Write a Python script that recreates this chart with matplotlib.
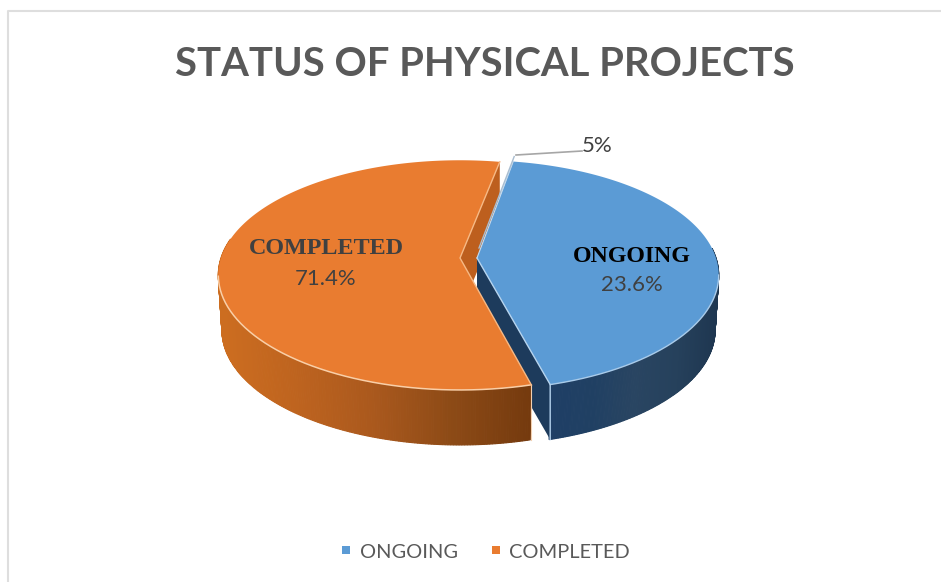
import numpy as np
import matplotlib
matplotlib.use("Agg")
import matplotlib.pyplot as plt
from matplotlib.colors import LinearSegmentedColormap

W, H = 941, 582

title = "STATUS OF PHYSICAL PROJECTS"
categories = ["ONGOING", "COMPLETED"]
printed_labels = ["23.6%", "71.4%"]
small_slice_label = "5%"
# Share of the disc each slice visibly takes in the picture (the printed labels differ)
drawn_shares = [43.0, 57.0]
start_clockwise_from_north = 10.0
colors = ["#5b9bd5", "#e97c30"]

# Tilted-disc projection
K, A, B, DEPTH = 0.149, 112.3, 239.0, 55.0
APEX = {"ONGOING": (477.0, 258.0), "COMPLETED": (460.0, 258.0)}


def proj(apex, theta_deg, z=0.0):
    t = np.radians(theta_deg)
    u, v = np.sin(t), np.cos(t)
    d = 1 + K * v
    x = apex[0] + B * u / d * (1 - 0.015 * z)
    y = apex[1] - A * v / d + DEPTH * z
    return x, y


fig = plt.figure(figsize=(W / 100, H / 100), dpi=100)
ax = fig.add_axes([0, 0, 1, 1])
ax.set_xlim(0, W)
ax.set_ylim(H, 0)
ax.axis("off")

# Frame
ax.plot([8.5, 8.5, 941], [582, 11, 11], color="#dedede", lw=1.5, zorder=1)

sweeps = np.array(drawn_shares) / sum(drawn_shares) * 360
b0 = start_clockwise_from_north
b1 = b0 + sweeps[0]
o0 = b1 + 0.4
o1 = o0 + sweeps[1] + 0.6

pb, po = APEX["ONGOING"], APEX["COMPLETED"]
cm_o = LinearSegmentedColormap.from_list("o", ["#cc6d20", "#bd631f", "#a9581d", "#8c4a16", "#753a0e"])
cm_b = LinearSegmentedColormap.from_list("b", ["#1f3f66", "#204063", "#294562", "#26415c", "#1e3650"])


def wall(apex, a0, a1, cmap, xlo, xhi, z):
    th = np.linspace(a0, a1, 200)
    for i in range(len(th) - 1):
        x0, y0 = proj(apex, th[i])
        x1, y1 = proj(apex, th[i + 1])
        x2, y2 = proj(apex, th[i + 1], 1)
        x3, y3 = proj(apex, th[i], 1)
        c = cmap(np.clip(((x0 + x1) / 2 - xlo) / (xhi - xlo), 0, 1))
        ax.fill([x0, x1, x2, x3], [y0, y1, y2, y3], color=c, lw=0.8, zorder=z)


def top(apex, a0, a1, color, z):
    th = np.linspace(a0, a1, 300)
    x, y = proj(apex, th)
    ax.fill(np.r_[apex[0], x], np.r_[apex[1], y], color=color, lw=0, zorder=z)
    return x, y


# Inner cut face of the orange slice, seen through the gap
q = proj(po, o1)
ax.fill([po[0], q[0], q[0], po[0]], [po[1], q[1], q[1] + DEPTH, po[1] + DEPTH],
        color="#bd5f1e", lw=0, zorder=2)

# Blue slice: only the front part of the rim can be seen
wall(pb, 85, b1, cm_b, 549, 720, 3)
e = proj(pb, b1)
ax.fill([pb[0], e[0], e[0], pb[0]], [pb[1], e[1], e[1] + DEPTH, pb[1] + DEPTH],
        color="#1d3b5c", lw=0, zorder=3.2)
xb, yb = top(pb, b0, b1, colors[0], 4)
mask = yb > 275
ax.plot(xb[mask], yb[mask], color="#a9cbea", lw=1.0, zorder=4.1)
ax.plot([pb[0], e[0], e[0]], [pb[1], e[1], e[1] + DEPTH], color="#b5d3ee", lw=1.0, zorder=4.1)
s = proj(pb, b0)
ax.plot([pb[0], s[0]], [pb[1], s[1]], color="#c5dcf0", lw=0.8, zorder=4.1)

# Very thin third slice, next to the blue one
ax.plot([pb[0] + 2, s[0] + 1], [pb[1] - 10, s[1] - 5], color="#a9bdd0", lw=1.0, zorder=4.2)

# Orange slice
wall(po, o0, 280, cm_o, 222, 530, 5)
c = proj(po, o0)
ax.plot([c[0], c[0]], [c[1], c[1] + DEPTH], color="#f3d0b0", lw=0.8, zorder=5.5)
xo, yo = top(po, o0, o1, colors[1], 6)
mask = yo > 275
ax.plot(xo[mask], yo[mask], color="#f9cfa8", lw=1.1, zorder=6.1)
ax.plot([c[0], po[0], q[0]], [c[1], po[1], q[1]], color="#f6b985", lw=1.0, zorder=6.1)

# Leader line and small label
ax.plot([516, 582], [155, 151], color="#a6a6a6", lw=1.2, zorder=7)
ax.text(597, 146, small_slice_label, color="#404040", fontsize=16, family="Lato",
        ha="center", va="center", zorder=8)

# Title
ax.text(485, 64, title, color="#595959", fontsize=28.8, family="Lato", weight="bold",
        ha="center", va="center", zorder=8)

# Slice labels
ax.text(326, 249, categories[1], color="#404040", fontsize=17.4, family="Liberation Serif",
        weight="bold", ha="center", va="center", zorder=8)
ax.text(326, 279, printed_labels[1], color="#404040", fontsize=15.9, family="Lato",
        ha="center", va="center", zorder=8)
ax.text(632, 256, categories[0], color="black", fontsize=17.2, family="Liberation Serif",
        weight="bold", ha="center", va="center", zorder=8)
ax.text(632, 285, printed_labels[0], color="#404040", fontsize=15.9, family="Lato",
        ha="center", va="center", zorder=8)

# Legend
for name, col, mx, tx in zip(categories, colors, [346, 496], [360, 509]):
    ax.plot([mx], [550], marker="s", ms=5.5, color=col, mew=0, zorder=8)
    ax.text(tx, 552, name, color="#595959", fontsize=14.4, family="Lato", ha="left",
            va="center", zorder=8)

fig.savefig("out.png", dpi=100)
